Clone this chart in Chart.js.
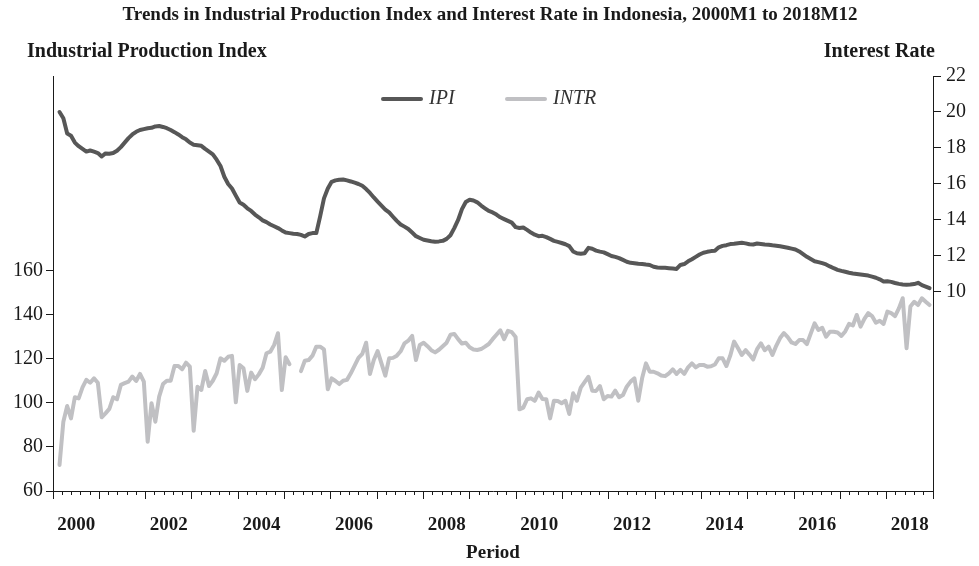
<!DOCTYPE html>
<html lang="en">
<head>
    <meta charset="UTF-8">
    <title>IPI and Interest Rate - Indonesia</title>
    <script src="https://cdn.jsdelivr.net/npm/chart.js"></script>
    <style>
        body {
            margin: 0;
            background-color: #fff;
        }
    </style>
</head>
<body>
    <canvas id="ipiChart" width="979" height="566"></canvas>

    <script>
        const title = 'Trends in Industrial Production Index and Interest Rate in Indonesia, 2000M1 to 2018M12';
        const leftHeader = 'Industrial Production Index';
        const rightHeader = 'Interest Rate';

        const yearLabels = ['2000', '2002', '2004', '2006', '2008', '2010', '2012', '2014', '2016', '2018'];
        const leftTicks = [60, 80, 100, 120, 140, 160];
        const rightTicks = [10, 12, 14, 16, 18, 20, 22];

        // dark line, read against the right hand axis (monthly, 2000M1..2018M12)
        const ipi = [
            20.0, 19.65, 18.8, 18.68, 18.3, 18.1, 17.95, 17.8, 17.86, 17.8, 17.72, 17.53,
            17.7, 17.68, 17.72, 17.85, 18.05, 18.3, 18.55, 18.75, 18.9, 19.0, 19.05, 19.1,
            19.12, 19.2, 19.22, 19.17, 19.1, 19.0, 18.88, 18.75, 18.6, 18.48, 18.3, 18.18,
            18.15, 18.12, 17.95, 17.8, 17.65, 17.35, 17.0, 16.4, 16.0, 15.75, 15.35, 14.97,
            14.85, 14.65, 14.5, 14.3, 14.15, 13.98, 13.88, 13.75, 13.65, 13.55, 13.42, 13.3,
            13.27, 13.24, 13.22, 13.17, 13.08, 13.22, 13.27, 13.27, 14.2, 15.2, 15.75, 16.12,
            16.2, 16.24, 16.25, 16.2, 16.14, 16.07, 16.0, 15.9, 15.72, 15.5, 15.25, 15.02,
            14.8, 14.58, 14.42, 14.18, 13.95, 13.75, 13.63, 13.5, 13.3, 13.1, 13.0, 12.9,
            12.86, 12.82, 12.79, 12.81, 12.84, 12.95, 13.15, 13.55, 14.0, 14.6, 15.0, 15.12,
            15.08, 14.98, 14.8, 14.65, 14.5, 14.42, 14.3, 14.15, 14.05, 13.95, 13.85, 13.6,
            13.55, 13.58, 13.45, 13.3, 13.18, 13.1, 13.12, 13.05, 12.95, 12.84, 12.78, 12.72,
            12.65, 12.55, 12.25, 12.15, 12.12, 12.15, 12.45, 12.4, 12.3, 12.24, 12.2, 12.1,
            12.0, 11.95, 11.88, 11.78, 11.68, 11.62, 11.6, 11.57, 11.55, 11.52, 11.5, 11.4,
            11.36, 11.35, 11.34, 11.32, 11.3, 11.28, 11.5, 11.55, 11.7, 11.82, 11.95, 12.08,
            12.18, 12.23, 12.27, 12.29, 12.48, 12.56, 12.6, 12.66, 12.68, 12.71, 12.73, 12.7,
            12.65, 12.64, 12.69, 12.67, 12.64, 12.62, 12.59, 12.57, 12.54, 12.5, 12.46, 12.41,
            12.36, 12.25, 12.1, 11.95, 11.83, 11.71, 11.66, 11.6, 11.53, 11.42, 11.32, 11.23,
            11.17, 11.12, 11.07, 11.03, 11.0, 10.97, 10.94, 10.91, 10.85, 10.79, 10.7, 10.58,
            10.59, 10.56, 10.5, 10.45, 10.42, 10.4, 10.41, 10.44, 10.51, 10.38, 10.3, 10.21
        ];

        // light line, read against the left hand axis (null = gap in the line)
        const intr = [
            71.8, 91.5, 98.6, 93.0, 102.6, 102.1, 107.1, 110.5, 109.2, 111.2, 109.2, 93.5,
            95.3, 97.3, 102.6, 101.7, 108.2, 109.0, 109.7, 112.0, 110.0, 113.2, 109.7, 82.4,
            99.9, 91.5, 102.9, 108.6, 110.1, 110.1, 116.8, 116.8, 115.3, 118.3, 116.5, 87.4,
            107.4, 105.9, 114.5, 107.7, 110.1, 113.5, 120.3, 119.2, 121.0, 121.4, 100.3, 117.3,
            115.8, 105.5, 113.8, 110.8, 113.0, 116.0, 122.6, 123.3, 126.4, 131.7, 105.9, 120.8,
            117.6, null, null, 114.5, 119.2, 119.5, 121.5, 125.6, 125.6, 124.4, 106.2, 111.2,
            110.0, 108.6, 110.1, 110.5, 113.5, 117.0, 120.5, 122.3, 127.4, 113.2, 119.5, 123.6,
            118.0, 112.4, 120.3, 120.5, 121.5, 123.5, 127.1, 128.3, 130.5, 119.5, 126.4, 127.4,
            125.8, 124.0, 123.0, 124.2, 125.8, 127.4, 131.0, 131.4, 129.0, 127.0, 127.4, 125.3,
            124.3, 124.1, 124.5, 125.6, 126.8, 129.0, 131.0, 133.0, 129.0, 132.8, 132.2, 130.0,
            97.1, 97.9, 101.7, 102.1, 101.0, 104.7, 101.8, 101.7, 93.0, 101.0, 100.9, 99.9,
            101.0, 95.0, 104.4, 101.0, 107.0, 109.5, 111.9, 105.6, 105.5, 107.7, 101.7, 103.2,
            102.9, 105.6, 102.6, 103.6, 107.4, 109.7, 111.2, 101.0, 111.2, 118.0, 114.2, 114.2,
            113.5, 112.5, 112.2, 113.5, 115.3, 113.2, 115.0, 113.2, 116.2, 118.0, 116.2, 117.3,
            117.3, 116.5, 116.7, 117.5, 120.3, 120.3, 116.8, 121.5, 127.9, 125.0, 121.8, 124.0,
            122.0, 119.8, 124.5, 127.1, 124.0, 125.6, 121.8, 126.0, 129.5, 131.8, 129.9, 127.5,
            126.8, 128.6, 128.6, 126.8, 131.5, 136.2, 133.2, 134.2, 130.1, 132.4, 132.4, 132.0,
            130.5, 132.5, 136.0, 135.2, 140.0, 134.7, 138.2, 140.8, 139.5, 136.5, 137.4, 135.9,
            141.5, 140.8, 139.5, 143.0, 147.6, 124.9, 143.8, 146.0, 144.5, 147.6, 146.0, 144.5
        ];

        const serif = '"Liberation Serif", "Times New Roman", serif';
        const ink = '#1a1a1a';

        // month index axis: a bit of room before the first and after the last month
        const xMin = -1.7;
        const xMax = 227.9;
        const yearSpan = (xMax - xMin) / 19;
        const majorTicks = [];
        for (let k = 0; k <= 19; k++) majorTicks.push(xMin + k * yearSpan);
        const minorTicks = [];
        for (let k = 0; k <= 95; k++) minorTicks.push(xMin + k * yearSpan / 5);

        // header texts and the legend sit inside/above the plot, drawn by hand
        const headerPlugin = {
            id: 'header',
            afterDraw(chart) {
                const ctx = chart.ctx;
                ctx.save();
                ctx.fillStyle = ink;
                ctx.textBaseline = 'middle';
                ctx.textAlign = 'center';
                ctx.font = 'bold 19px ' + serif;
                ctx.fillText(title, 490, 15);
                ctx.font = 'bold 20px ' + serif;
                ctx.textAlign = 'left';
                ctx.fillText(leftHeader, 27, 52);
                ctx.textAlign = 'right';
                ctx.fillText(rightHeader, 935, 52);

                const legendX = [383, 507];
                ctx.textAlign = 'left';
                ctx.font = 'italic 20px ' + serif;
                chart.data.datasets.forEach((ds, i) => {
                    const x0 = legendX[i];
                    ctx.strokeStyle = ds.borderColor;
                    ctx.lineWidth = 4;
                    ctx.lineCap = 'round';
                    ctx.beginPath();
                    ctx.moveTo(x0, 99);
                    ctx.lineTo(x0 + 38, 99);
                    ctx.stroke();
                    ctx.fillStyle = '#333';
                    ctx.fillText(ds.label, x0 + 46, 99);
                });
                ctx.restore();
            }
        };

        const ctx = document.getElementById('ipiChart').getContext('2d');
        const ipiChart = new Chart(ctx, {
            type: 'line',
            data: {
                datasets: [
                    {
                        label: 'IPI',
                        data: ipi.map((v, i) => ({ x: i, y: v })),
                        yAxisID: 'y1',
                        borderColor: '#575757',
                        borderWidth: 4,
                        pointRadius: 0,
                        tension: 0,
                        borderJoinStyle: 'round',
                        borderCapStyle: 'round'
                    },
                    {
                        label: 'INTR',
                        data: intr.map((v, i) => ({ x: i, y: v })),
                        yAxisID: 'y',
                        borderColor: '#c0c0c3',
                        borderWidth: 4,
                        pointRadius: 0,
                        tension: 0,
                        spanGaps: false,
                        borderJoinStyle: 'round',
                        borderCapStyle: 'round'
                    }
                ]
            },
            options: {
                responsive: false,
                devicePixelRatio: 1,
                animation: false,
                layout: { padding: { top: 76, left: 0, right: 0, bottom: 0 } },
                plugins: {
                    legend: { display: false },
                    tooltip: { enabled: false }
                },
                scales: {
                    x: {
                        type: 'linear',
                        position: 'bottom',
                        weight: 1,
                        min: xMin,
                        max: xMax,
                        afterBuildTicks: (s) => { s.ticks = majorTicks.map(v => ({ value: v })); },
                        afterFit: (s) => { s.height = 75; },
                        grid: { drawOnChartArea: false, tickLength: 8, tickColor: ink },
                        border: { color: ink, width: 1 },
                        ticks: {
                            autoSkip: false,
                            maxRotation: 0,
                            labelOffset: yearSpan * 880 / (xMax - xMin) / 2,
                            padding: 15,
                            color: ink,
                            font: { family: serif, size: 19, weight: 'bold' },
                            callback: (v, i) => (i % 2 === 0 && yearLabels[i / 2]) ? yearLabels[i / 2] : ''
                        },
                        title: {
                            display: true,
                            text: 'Period',
                            color: ink,
                            font: { family: serif, size: 19, weight: 'bold' },
                            padding: { top: 0, bottom: 2 }
                        }
                    },
                    xMinor: {
                        type: 'linear',
                        position: 'bottom',
                        weight: 0,
                        min: xMin,
                        max: xMax,
                        afterBuildTicks: (s) => { s.ticks = minorTicks.map(v => ({ value: v })); },
                        afterFit: (s) => { s.height = 0; },
                        grid: { drawOnChartArea: false, tickLength: 4, tickColor: ink },
                        border: { display: false },
                        ticks: { display: false }
                    },
                    y: {
                        position: 'left',
                        min: 60,
                        max: 248.6,
                        afterBuildTicks: (s) => { s.ticks = leftTicks.map(v => ({ value: v })); },
                        afterFit: (s) => { s.width = 53; },
                        grid: { drawOnChartArea: false, tickLength: 7, tickColor: ink },
                        border: { color: ink, width: 1 },
                        ticks: { color: ink, padding: 3, font: { family: serif, size: 20 } }
                    },
                    y1: {
                        position: 'right',
                        min: -1.06,
                        max: 22,
                        afterBuildTicks: (s) => { s.ticks = rightTicks.map(v => ({ value: v })); },
                        afterFit: (s) => { s.width = 46; },
                        grid: { drawOnChartArea: false, tickLength: 8, tickColor: ink },
                        border: { color: ink, width: 1 },
                        ticks: { color: ink, padding: 5, font: { family: serif, size: 20 } }
                    }
                }
            },
            plugins: [headerPlugin]
        });
    </script>
</body>
</html>
